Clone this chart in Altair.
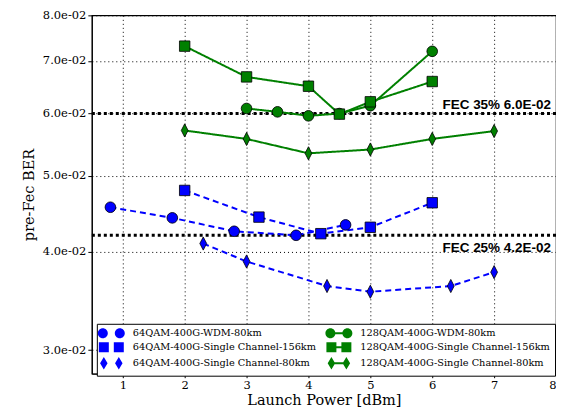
import altair as alt
import pandas as pd

# ---------------- data ----------------
S1 = "64QAM-400G-WDM-80km"
S2 = "64QAM-400G-Single Channel-156km"
S3 = "64QAM-400G-Single Channel-80km"
S4 = "128QAM-400G-WDM-80km"
S5 = "128QAM-400G-Single Channel-156km"
S6 = "128QAM-400G-Single Channel-80km"

x_s1 = [0.8, 1.8, 2.8, 3.8, 4.6]
y_s1 = [0.0456, 0.0442, 0.0425, 0.0420, 0.0433]

x_s2 = [2.0, 3.2, 4.2, 5.0, 6.0]
y_s2 = [0.0479, 0.0443, 0.0422, 0.0430, 0.0462]

x_s3 = [2.3, 3.0, 4.3, 5.0, 6.3, 7.0]
y_s3 = [0.0410, 0.0389, 0.0362, 0.0356, 0.0362, 0.0377]

x_s4 = [3.0, 3.5, 4.0, 4.5, 5.0, 6.0]
y_s4 = [0.0609, 0.0603, 0.0596, 0.0600, 0.0614, 0.0720]

x_s5 = [2.0, 3.0, 4.0, 4.5, 5.0, 6.0]
y_s5 = [0.0731, 0.0668, 0.0650, 0.0599, 0.0621, 0.0659]

x_s6 = [2.0, 3.0, 4.0, 5.0, 6.0, 7.0]
y_s6 = [0.0571, 0.0557, 0.0534, 0.0540, 0.0557, 0.0570]

fec_values = [0.060, 0.042]
fec_labels = ["FEC 35% 6.0E-02", "FEC 25% 4.2E-02"]

x_ticks = [1, 2, 3, 4, 5, 6, 7, 8]
y_ticks = [0.03, 0.04, 0.05, 0.06, 0.07, 0.08]

rows = []
for name, xs, ys in [(S1, x_s1, y_s1), (S2, x_s2, y_s2), (S3, x_s3, y_s3),
                     (S4, x_s4, y_s4), (S5, x_s5, y_s5), (S6, x_s6, y_s6)]:
    for xv, yv in zip(xs, ys):
        rows.append({"series": name, "power": xv, "ber": yv})
df = pd.DataFrame(rows)
fec_df = pd.DataFrame({"ber": fec_values, "label": fec_labels})

# ---------------- styles ----------------
BLUE = "#0000ff"
GREEN = "#008000"
order = [S1, S2, S3, S4, S5, S6]
colors = [BLUE, BLUE, BLUE, GREEN, GREEN, GREEN]
dashes = [[6, 4], [6, 4], [6, 4], [1, 0], [1, 0], [1, 0]]

CIRC = "M-0.97,0A0.97,0.97,0,1,1,0.97,0A0.97,0.97,0,1,1,-0.97,0Z"
SQR = "M-0.95,-0.95L0.95,-0.95L0.95,0.95L-0.95,0.95Z"
DIA = "M0,-1.2L0.62,0L0,1.2L-0.62,0Z"
point_shapes = [CIRC, SQR, DIA, CIRC, SQR, DIA]

C2 = "M-2.7,0A1,1,0,1,1,-0.7,0A1,1,0,1,1,-2.7,0ZM0.7,0A1,1,0,1,1,2.7,0A1,1,0,1,1,0.7,0Z"
C2L = C2 + "M-0.72,-0.2L0.72,-0.2L0.72,0.2L-0.72,0.2Z"
Q2 = "M-2.5,-1L-0.5,-1L-0.5,1L-2.5,1ZM0.5,-1L2.5,-1L2.5,1L0.5,1Z"
Q2L = Q2 + "M-0.5,-0.2L0.5,-0.2L0.5,0.2L-0.5,0.2Z"
D2 = "M-1.5,-1.25L-0.75,0L-1.5,1.25L-2.25,0ZM1.5,-1.25L2.25,0L1.5,1.25L0.75,0Z"
D2L = D2 + "M-0.9,-0.2L0.9,-0.2L0.9,0.2L-0.9,0.2Z"
legend_shapes = [C2, Q2, D2, C2L, Q2L, D2L]

x_enc = alt.X(
    "power:Q",
    scale=alt.Scale(domain=[0.5, 8], nice=False, zero=False),
    axis=alt.Axis(values=x_ticks, format="d", title="Launch Power [dBm]",
                  labelPadding=2, titlePadding=2),
)
y_enc = alt.Y(
    "ber:Q",
    scale=alt.Scale(type="log", domain=[0.028, 0.08], nice=False),
    axis=alt.Axis(values=y_ticks, title="pre-Fec BER",
                  labelExpr="format(datum.value*100, '.1f') + 'e-02'",
                  labelPadding=2, titlePadding=6),
)

rules = alt.Chart(fec_df).mark_rule(color="black", strokeWidth=3, strokeDash=[3, 3]).encode(
    y=y_enc
)

lines = alt.Chart(df).mark_line(strokeWidth=2).encode(
    x=x_enc, y=y_enc,
    color=alt.Color("series:N", scale=alt.Scale(domain=order, range=colors), legend=None),
    strokeDash=alt.StrokeDash("series:N", scale=alt.Scale(domain=order, range=dashes), legend=None),
)

points = alt.Chart(df).mark_point(filled=True, opacity=1, size=121, stroke="black", strokeWidth=0.8).encode(
    x=x_enc, y=y_enc,
    color=alt.Color("series:N", scale=alt.Scale(domain=order, range=colors), legend=None),
    shape=alt.Shape("series:N", scale=alt.Scale(domain=order, range=point_shapes), legend=None),
)

leg = alt.Legend(
    orient="none", legendX=5, legendY=309, columns=2, title=None,
    strokeColor="black", fillColor="white", padding=4, cornerRadius=0,
    symbolSize=100, symbolStrokeColor="black", symbolStrokeWidth=0.7, symbolOpacity=1,
    symbolOffset=5, labelOffset=16, rowPadding=1, columnPadding=7,
    labelFont="DejaVu Serif", labelFontSize=9.8, labelColor="black", labelLimit=400,
)
legend_layer = alt.Chart(df).transform_filter("false").mark_point(filled=True, opacity=1).encode(
    x=x_enc, y=y_enc,
    color=alt.Color("series:N", scale=alt.Scale(domain=order, range=colors), legend=leg),
    shape=alt.Shape("series:N", scale=alt.Scale(domain=order, range=legend_shapes), legend=leg),
)

text_top = alt.Chart(fec_df.iloc[[0]]).mark_text(
    align="right", baseline="alphabetic", dx=-5, dy=-5,
    font="Liberation Sans", fontWeight="bold", fontSize=13.5, color="black",
).encode(x=alt.datum(8), y=y_enc, text="label:N")

text_bot = alt.Chart(fec_df.iloc[[1]]).mark_text(
    align="right", baseline="alphabetic", dx=-5, dy=17,
    font="Liberation Sans", fontWeight="bold", fontSize=13.5, color="black",
).encode(x=alt.datum(8), y=y_enc, text="label:N")

chart = alt.layer(rules, lines, points, legend_layer, text_top, text_bot).resolve_scale(
    color="independent", shape="independent", strokeDash="independent"
).properties(
    width=465, height=359,
    autosize=alt.AutoSizeParams(type="none"),
    padding={"left": 84, "top": 7, "right": 0, "bottom": 35},
).configure_view(
    stroke="black", strokeWidth=1.2
).configure_axis(
    grid=True, gridColor="black", gridDash=[1, 3], gridWidth=1, gridOpacity=1,
    domainColor="black", tickColor="black", tickSize=4,
    labelFont="DejaVu Serif", labelFontSize=11.5, labelColor="black",
    titleFont="DejaVu Serif", titleFontSize=14.5, titleFontWeight="normal", titleColor="black",
)

chart.save("out.html", embed_options={"renderer": "svg", "actions": False})
